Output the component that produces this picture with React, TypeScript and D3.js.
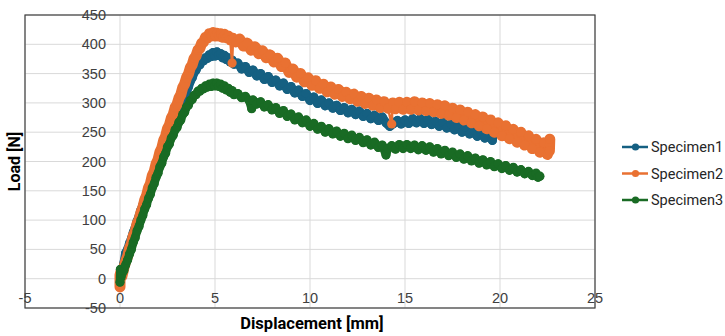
import React from "react";
import * as d3 from "d3";

type P = [number, number];

const seriesNames = ["Specimen1", "Specimen2", "Specimen3"];
const seriesColors = ["#156082", "#E97132", "#196B24"];

const xTicks = [-5, 0, 5, 10, 15, 20, 25];
const yTicks = [-50, 0, 50, 100, 150, 200, 250, 300, 350, 400, 450];

const specimen1: P[] = [
  [0, -4], [0.03, 14], [0.1, 10], [0.2, 26], [0.3, 44], [0.4, 50], [0.5, 60], [0.6, 68], [0.7, 79], [0.8, 87],
  [0.9, 98], [1.0, 106], [1.1, 117], [1.2, 125], [1.3, 136], [1.4, 144], [1.5, 155], [1.6, 163], [1.7, 174],
  [1.8, 181], [1.9, 192], [2.0, 199], [2.1, 210], [2.2, 216], [2.3, 226], [2.4, 232], [2.5, 242], [2.6, 248],
  [2.7, 258], [2.8, 263], [2.9, 272], [3.0, 277], [3.1, 286], [3.2, 292], [3.3, 302], [3.4, 310], [3.5, 320],
  [3.6, 327], [3.7, 337], [3.8, 343], [3.9, 352], [4.0, 356], [4.1, 363], [4.2, 365], [4.3, 371], [4.4, 372],
  [4.5, 377], [4.6, 376], [4.7, 382], [4.8, 379], [4.9, 386], [5.0, 380], [5.1, 387], [5.2, 381], [5.3, 384],
  [5.4, 377], [5.5, 381], [5.6, 374], [5.7, 377], [5.8, 370], [5.9, 373], [6.0, 366], [6.2, 368], [6.4, 358],
  [6.6, 362], [6.8, 352], [7.0, 356], [7.2, 346], [7.4, 350], [7.6, 340], [7.8, 345], [8.0, 335], [8.2, 339],
  [8.4, 329], [8.6, 334], [8.8, 323], [9.0, 328], [9.2, 317], [9.4, 322], [9.6, 311], [9.8, 316], [10.0, 304],
  [10.2, 310], [10.4, 299], [10.6, 305], [10.8, 295], [11.0, 300], [11.2, 291], [11.4, 296], [11.6, 287],
  [11.8, 292], [12.0, 283], [12.2, 289], [12.4, 280], [12.6, 286], [12.8, 277], [13.0, 282], [13.2, 273],
  [13.4, 279], [13.6, 270], [13.8, 276], [14.0, 266], [14.2, 260], [14.4, 265], [14.6, 270], [14.8, 264],
  [15.0, 271], [15.2, 265], [15.4, 273], [15.6, 266], [15.8, 273], [16.0, 265], [16.2, 272], [16.4, 263],
  [16.6, 269], [16.8, 260], [17.0, 267], [17.2, 257], [17.4, 264], [17.6, 254], [17.8, 261], [18.0, 250],
  [18.2, 258], [18.4, 247], [18.6, 254], [18.8, 243], [19.0, 251], [19.2, 240], [19.4, 248], [19.6, 236],
  [19.62, 250],
];

const specimen2: P[] = [
  [0, -14], [0, 6], [0.05, 12], [0.1, 4], [0.2, 18], [0.3, 30], [0.4, 38], [0.5, 52], [0.6, 60], [0.7, 73],
  [0.8, 80], [0.9, 94], [1.0, 100], [1.1, 113], [1.2, 121], [1.3, 134], [1.4, 142], [1.5, 155], [1.6, 162],
  [1.7, 176], [1.8, 183], [1.9, 196], [2.0, 203], [2.1, 216], [2.2, 223], [2.3, 236], [2.4, 243], [2.5, 256],
  [2.6, 262], [2.7, 274], [2.8, 280], [2.9, 292], [3.0, 297], [3.1, 308], [3.2, 314], [3.3, 326], [3.4, 332],
  [3.5, 343], [3.6, 349], [3.7, 360], [3.8, 365], [3.9, 376], [4.0, 380], [4.1, 390], [4.2, 393], [4.3, 402],
  [4.4, 404], [4.5, 412], [4.6, 411], [4.7, 418], [4.8, 414], [4.9, 420], [5.0, 414], [5.1, 419], [5.2, 414],
  [5.3, 418], [5.4, 412], [5.5, 417], [5.6, 411], [5.7, 414], [5.8, 408], [5.9, 368], [5.95, 410], [6.1, 404],
  [6.3, 409], [6.5, 397], [6.7, 402], [6.9, 390], [7.1, 396], [7.3, 384], [7.5, 389], [7.7, 377], [7.9, 382],
  [8.1, 370], [8.3, 376], [8.5, 362], [8.7, 368], [8.9, 352], [9.1, 358], [9.3, 344], [9.5, 350], [9.7, 336],
  [9.9, 343], [10.1, 330], [10.3, 338], [10.5, 325], [10.7, 332], [10.9, 319], [11.1, 327], [11.3, 315],
  [11.5, 323], [11.7, 311], [11.9, 318], [12.1, 307], [12.3, 315], [12.5, 303], [12.7, 311], [12.9, 299],
  [13.1, 308], [13.3, 296], [13.5, 305], [13.7, 292], [13.9, 302], [14.1, 291], [14.3, 264], [14.35, 300],
  [14.5, 290], [14.7, 301], [14.9, 289], [15.1, 301], [15.3, 289], [15.5, 302], [15.7, 288], [15.9, 300],
  [16.1, 287], [16.3, 299], [16.5, 285], [16.7, 297], [16.9, 282], [17.1, 295], [17.3, 279], [17.5, 291],
  [17.7, 275], [17.9, 288], [18.1, 271], [18.3, 284], [18.5, 266], [18.7, 280], [18.9, 261], [19.1, 276],
  [19.3, 256], [19.5, 271], [19.7, 250], [19.9, 266], [20.1, 244], [20.3, 261], [20.5, 239], [20.7, 255],
  [20.9, 233], [21.1, 250], [21.3, 228], [21.5, 244], [21.7, 222], [21.9, 238], [22.1, 216], [22.3, 232],
  [22.5, 212], [22.6, 228], [22.62, 238], [22.6, 218],
];

const specimen3: P[] = [
  [0, -6], [0.02, 16], [0.05, 2], [0.1, 8], [0.2, 14], [0.3, 24], [0.4, 32], [0.5, 42], [0.6, 50], [0.7, 62],
  [0.8, 70], [0.9, 82], [1.0, 89], [1.1, 100], [1.2, 108], [1.3, 119], [1.4, 126], [1.5, 137], [1.6, 144],
  [1.7, 155], [1.8, 162], [1.9, 173], [2.0, 180], [2.1, 191], [2.2, 197], [2.3, 208], [2.4, 214], [2.5, 225],
  [2.6, 230], [2.7, 240], [2.8, 245], [2.9, 254], [3.0, 258], [3.1, 267], [3.2, 271], [3.3, 280], [3.4, 284],
  [3.5, 293], [3.6, 296], [3.7, 304], [3.8, 306], [3.9, 313], [4.0, 314], [4.1, 320], [4.2, 320], [4.3, 325],
  [4.4, 324], [4.5, 329], [4.6, 327], [4.7, 332], [4.8, 328], [4.9, 334], [5.0, 329], [5.1, 334], [5.2, 328],
  [5.3, 332], [5.4, 325], [5.5, 329], [5.6, 322], [5.7, 325], [5.8, 318], [5.9, 321], [6.0, 314], [6.2, 316],
  [6.4, 309], [6.6, 311], [6.8, 304], [6.93, 290], [7.0, 305], [7.2, 298], [7.4, 302], [7.6, 293], [7.8, 297],
  [8.0, 288], [8.2, 292], [8.4, 282], [8.6, 287], [8.8, 277], [9.0, 281], [9.2, 271], [9.4, 276], [9.6, 266],
  [9.8, 271], [10.0, 260], [10.2, 265], [10.4, 255], [10.6, 260], [10.8, 250], [11.0, 256], [11.2, 247],
  [11.4, 252], [11.6, 243], [11.8, 248], [12.0, 239], [12.2, 245], [12.4, 236], [12.6, 241], [12.8, 232],
  [13.0, 237], [13.2, 228], [13.4, 233], [13.6, 224], [13.8, 228], [14.0, 211], [14.1, 222], [14.3, 227],
  [14.5, 221], [14.7, 229], [14.9, 222], [15.1, 229], [15.3, 222], [15.5, 228], [15.7, 220], [15.9, 227],
  [16.1, 219], [16.3, 225], [16.5, 216], [16.7, 222], [16.9, 213], [17.1, 219], [17.3, 210], [17.5, 216],
  [17.7, 207], [17.9, 213], [18.1, 204], [18.3, 210], [18.5, 201], [18.7, 206], [18.9, 197], [19.1, 203],
  [19.3, 194], [19.5, 200], [19.7, 191], [19.9, 196], [20.1, 188], [20.3, 193], [20.5, 185], [20.7, 190],
  [20.9, 182], [21.1, 186], [21.3, 179], [21.5, 183], [21.7, 176], [21.9, 180], [22.0, 173], [22.1, 175],
];

const allSeries = [specimen1, specimen2, specimen3];
const bandWidths = [9, 11, 8.5];

const W = 725;
const H = 336;
const plot = { left: 25, right: 595, top: 15, bottom: 308 };

// points that stick far out of their neighbours are drawn with the thin line only
function isSpike(s: P[], j: number) {
  if (j === 0 || j === s.length - 1) return false;
  const a = s[j - 1][1];
  const b = s[j + 1][1];
  const v = s[j][1];
  return Math.abs(v - (a + b) / 2) > 25;
}

export default function App() {
  const x = d3.scaleLinear().domain([-5, 25]).range([plot.left, plot.right]);
  const y = d3.scaleLinear().domain([-50, 450]).range([plot.bottom, plot.top]);
  const line = d3
    .line<P>()
    .x((d) => x(d[0]))
    .y((d) => y(d[1]));

  const tickFont = "'Liberation Sans', Arial, sans-serif";
  const titleFont = "Roboto, 'Noto Sans', sans-serif";

  return (
    <svg
      width={W}
      height={H}
      style={{ position: "absolute", left: 0, top: 0, background: "#fff" }}
    >
      <rect x={0} y={0} width={W} height={H} fill="#fff" />
      {yTicks.map((t) => (
        <line key={"gy" + t} x1={plot.left} x2={plot.right} y1={y(t)} y2={y(t)} stroke="#d9d9d9" strokeWidth={1} />
      ))}
      {xTicks.map((t) => (
        <line key={"gx" + t} x1={x(t)} x2={x(t)} y1={plot.top} y2={plot.bottom} stroke="#d9d9d9" strokeWidth={1} />
      ))}
      <rect
        x={plot.left}
        y={plot.top}
        width={plot.right - plot.left}
        height={plot.bottom - plot.top}
        fill="none"
        stroke="#404040"
        strokeWidth={1.2}
      />
      {allSeries.map((s, i) => {
        const core = s.filter((_, j) => !isSpike(s, j));
        return (
          <g key={"s" + i}>
            <path
              d={line(core) || ""}
              fill="none"
              stroke={seriesColors[i]}
              strokeWidth={bandWidths[i]}
              strokeLinejoin="round"
              strokeLinecap="round"
            />
            <path d={line(s) || ""} fill="none" stroke={seriesColors[i]} strokeWidth={2.5} strokeLinejoin="round" />
            {s.map((d, j) => (
              <circle key={j} cx={x(d[0])} cy={y(d[1])} r={4.6} fill={seriesColors[i]} />
            ))}
          </g>
        );
      })}
      {yTicks.map((t) => (
        <text
          key={"ty" + t}
          x={x(0) - 14}
          y={y(t)}
          dy="0.35em"
          textAnchor="end"
          fontFamily={tickFont}
          fontSize={14.5}
          fill="#404040"
        >
          {t}
        </text>
      ))}
      {xTicks.map((t) => (
        <text
          key={"tx" + t}
          x={x(t)}
          y={y(0) + 24}
          textAnchor="middle"
          fontFamily={tickFont}
          fontSize={14.5}
          fill="#404040"
        >
          {t}
        </text>
      ))}
      <text
        x={(plot.left + plot.right) / 2 + 2}
        y={329}
        textAnchor="middle"
        fontFamily={titleFont}
        fontWeight="bold"
        fontSize={16.5}
        fill="#000"
      >
        Displacement [mm]
      </text>
      <text
        transform={`translate(20,${(plot.top + plot.bottom) / 2}) rotate(-90)`}
        textAnchor="middle"
        fontFamily={titleFont}
        fontWeight="bold"
        fontSize={16}
        fill="#000"
      >
        Load [N]
      </text>
      {seriesNames.map((n, i) => {
        const ly = 147 + i * 26.5;
        return (
          <g key={"l" + i}>
            <line x1={622} x2={648} y1={ly} y2={ly} stroke={seriesColors[i]} strokeWidth={2.5} />
            <circle cx={635.5} cy={ly} r={3.6} fill={seriesColors[i]} />
            <text x={651} y={ly} dy="0.35em" fontFamily={titleFont} fontSize={14.5} fill="#262626">
              {n}
            </text>
          </g>
        );
      })}
    </svg>
  );
}
